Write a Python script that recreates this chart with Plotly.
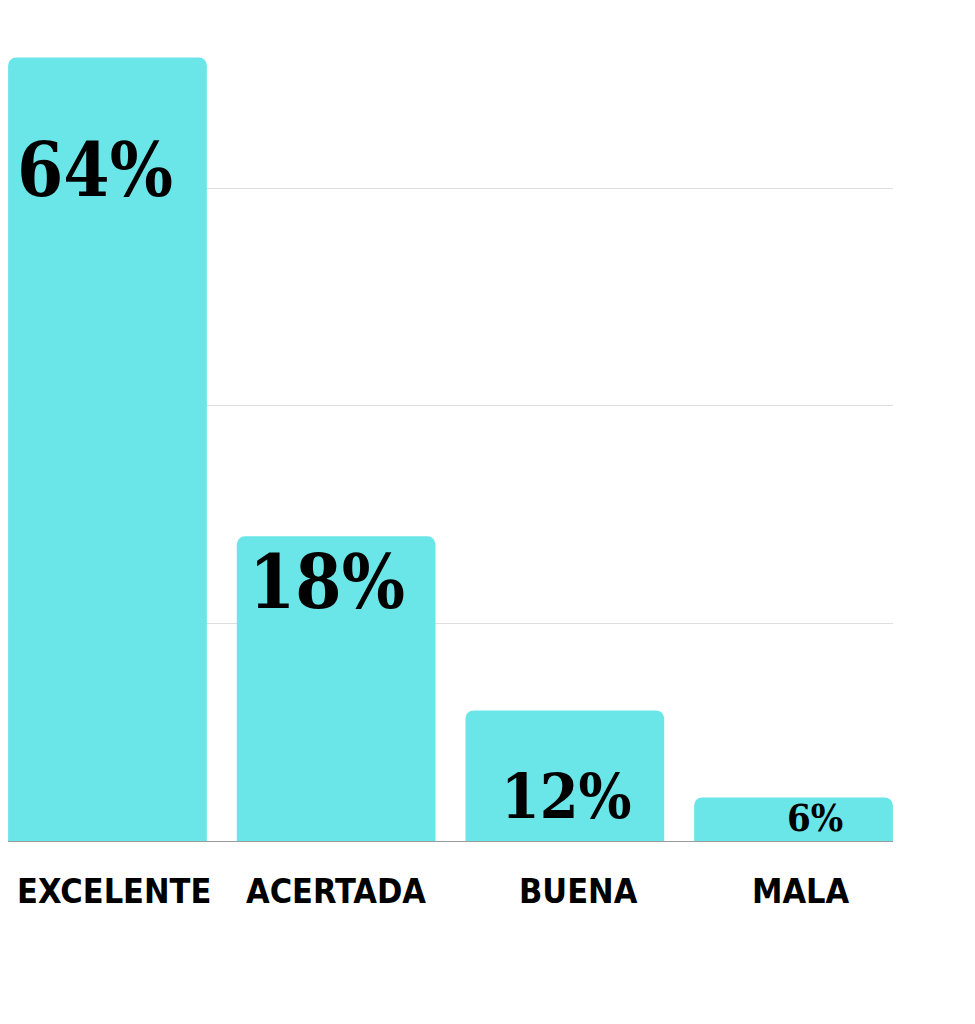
import plotly.graph_objects as go

categories = ["EXCELENTE", "ACERTADA", "BUENA", "MALA"]
bar_values = [3.6, 1.4, 0.6, 0.2]
labels = ["64%", "18%", "12%", "6%"]

# text styling (pixel offsets from bar top, sizes)
label_sizes = [74, 74, 62, 38]
label_yshift = [-112, -46, -86, -20]
label_xshift = [-12, -9, 2, 21]
cat_xshift = [7, 0, 14, 7]

BAR_COLOR = "#6BE6E8"

fig = go.Figure()
fig.add_trace(go.Bar(
    x=categories, y=bar_values,
    marker=dict(color=BAR_COLOR, cornerradius=8, line=dict(width=0)),
    hoverinfo="skip",
))

for c, v, t, s, ys, xs in zip(categories, bar_values, labels, label_sizes, label_yshift, label_xshift):
    fig.add_annotation(
        x=c, y=v, xref="x", yref="y", text=f"<b>{t}</b>", showarrow=False,
        yanchor="middle", xanchor="center", yshift=ys, xshift=xs,
        font=dict(family="DejaVu Serif Condensed, DejaVu Serif, serif", size=s, color="#000000"),
    )

for c, xs in zip(categories, cat_xshift):
    fig.add_annotation(
        x=c, y=0, xref="x", yref="y", text=f"<b>{c}</b>", showarrow=False,
        yanchor="top", xanchor="center", yshift=-28, xshift=xs,
        font=dict(family="Liberation Sans Narrow, DejaVu Sans Condensed, sans-serif", size=34, color="#000000"),
    )

fig.update_layout(
    width=975, height=1024,
    margin=dict(l=0, r=90, t=6, b=191),
    paper_bgcolor="white", plot_bgcolor="white",
    bargap=0.131, showlegend=False,
    xaxis=dict(
        range=[-0.435, 3.435], showgrid=False, showline=True, linecolor="#9a9a9a", linewidth=1,
        ticks="", showticklabels=False,
    ),
    yaxis=dict(
        range=[0, 3.8], dtick=1, showgrid=True, gridcolor="#dedede", gridwidth=1,
        showticklabels=False, zeroline=False, showline=False,
    ),
)

fig.write_html("out.html")
